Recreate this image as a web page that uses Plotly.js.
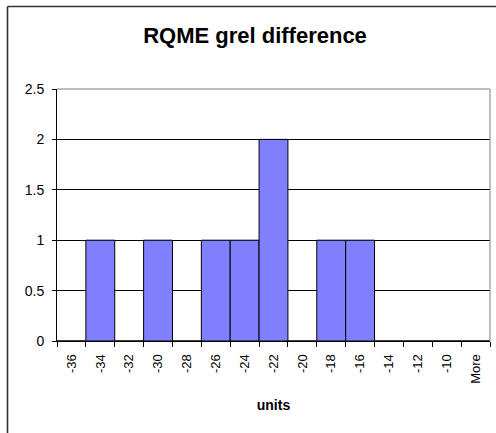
<!DOCTYPE html>
<html>
<head>
<meta charset="utf-8">
<script src="https://cdn.plot.ly/plotly-3.0.1.min.js"></script>
<style>html,body{margin:0;padding:0;background:#fff;}#chart{width:496px;height:433px;}</style>
</head>
<body>
<div id="chart"></div>
<script>
const categories = ["-36","-34","-32","-30","-28","-26","-24","-22","-20","-18","-16","-14","-12","-10","More"];
const frequency = [0,1,0,1,0,1,1,2,0,1,1,0,0,0,0];
const yTicks = [0,0.5,1,1.5,2,2.5];
const yTickText = ["0","0.5","1","1.5","2","2.5"];

const FONT = "Liberation Sans, Arial, sans-serif";
const L = 57, R = 6, T = 89, B = 92, W = 496, H = 433;
const pw = W - L - R, ph = H - T - B;
const px = v => (v - L) / pw;
const py = v => (H - B - v) / ph;

const trace = {
  type: "bar",
  x: categories,
  y: frequency,
  marker: {color: "#8080FF", line: {color: "#000000", width: 1}},
  hoverinfo: "skip"
};

const layout = {
  width: W, height: H,
  margin: {l: L, r: R, t: T, b: B, pad: 0},
  paper_bgcolor: "#ffffff",
  plot_bgcolor: "#ffffff",
  showlegend: false,
  bargap: 0,
  font: {family: FONT, color: "#000000", size: 12},
  title: {
    text: "<b>RQME grel difference</b>",
    font: {family: FONT, size: 22, color: "#000000"},
    x: 255 / W, xref: "container", xanchor: "center",
    y: 1 - 35 / H, yref: "container", yanchor: "middle"
  },
  xaxis: {
    type: "category",
    tickson: "boundaries",
    ticks: "outside", ticklen: 5, tickcolor: "#000000", tickwidth: 1,
    tickangle: -90,
    ticklabelstandoff: 7,
    tickfont: {family: FONT, size: 13, color: "#000000"},
    showline: true, linecolor: "#000000", linewidth: 1,
    showgrid: false, zeroline: false,
    automargin: false,
    fixedrange: true,
    title: {text: "<b>units</b>", font: {family: FONT, size: 14, color: "#000000"}, standoff: 17}
  },
  yaxis: {
    range: [0, 2.5],
    tickvals: yTicks, ticktext: yTickText,
    ticks: "outside", ticklen: 4, tickcolor: "#000000", tickwidth: 1,
    ticklabelstandoff: 5,
    tickfont: {family: FONT, size: 14, color: "#000000"},
    showline: true, linecolor: "#000000", linewidth: 1,
    showgrid: true, gridcolor: "#000000", gridwidth: 1,
    zeroline: false,
    automargin: false,
    fixedrange: true
  },
  shapes: [
    {type: "line", xref: "paper", yref: "paper", x0: 0, x1: 1, y0: 1, y1: 1, line: {color: "#808080", width: 1}},
    {type: "line", xref: "paper", yref: "paper", x0: 1, x1: 1, y0: 0, y1: 1, line: {color: "#808080", width: 1}},
    {type: "line", xref: "paper", yref: "paper", x0: px(7.5), x1: px(500), y0: py(6.5), y1: py(6.5), line: {color: "#333333", width: 1.6}},
    {type: "line", xref: "paper", yref: "paper", x0: px(7.5), x1: px(7.5), y0: py(6.5), y1: py(440), line: {color: "#333333", width: 1.6}}
  ]
};

Plotly.newPlot("chart", [trace], layout, {displayModeBar: false, staticPlot: true});
</script>
</body>
</html>
